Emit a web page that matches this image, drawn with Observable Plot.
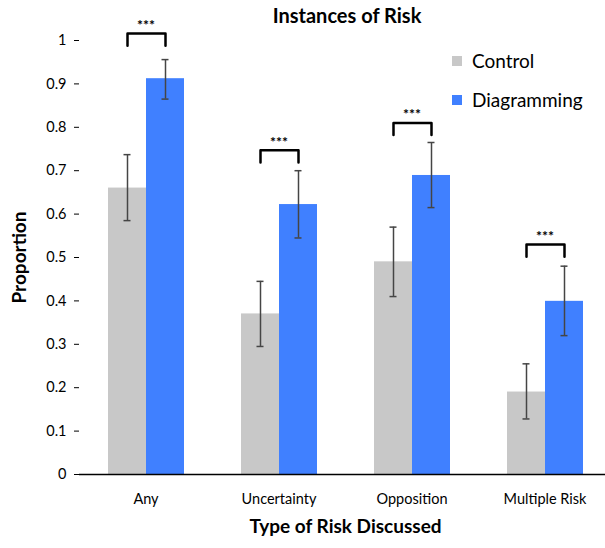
<!DOCTYPE html>
<html>
<head>
<meta charset="utf-8">
<script src="https://cdn.jsdelivr.net/npm/d3@7"></script>
<script src="https://cdn.jsdelivr.net/npm/@observablehq/plot@0.6"></script>
<style>
  html, body { margin: 0; padding: 0; background: #fff; }
  #wrap { position: relative; width: 605px; height: 548px; overflow: hidden; font-family: Lato, "Open Sans", sans-serif; }
  #wrap svg { position: absolute; left: 0; top: 0; }
  #title { position: absolute; left: 0; width: 694px; top: 3px; text-align: center; font-weight: bold; font-size: 20px; color: #000; }
  .leg { position: absolute; left: 452px; font-size: 19px; color: #000; display: flex; align-items: center; }
  .leg span.sw { display: inline-block; width: 10px; height: 10px; margin-right: 10px; }
  g[aria-label="y-axis label"] text, g[aria-label="fx-axis label"] text { font-weight: bold; font-size: 19px; }
  g[aria-label="y-axis label"], g[aria-label="fx-axis label"] { font-weight: bold; font-size: 19px; }
</style>
</head>
<body>
<div id="wrap">
  <div id="title">Instances of Risk</div>
  <div class="leg" style="top:49px"><span class="sw" style="background:#c8c8c8"></span>Control</div>
  <div class="leg" style="top:88px"><span class="sw" style="background:#4080ff"></span>Diagramming</div>
</div>
<script>
// ---- data ----
const categories = ["Any", "Uncertainty", "Opposition", "Multiple Risk"];
const series = ["Control", "Diagramming"];
const controlValues = [0.66, 0.37, 0.49, 0.19];
const controlLow    = [0.585, 0.295, 0.41, 0.128];
const controlHigh   = [0.737, 0.445, 0.57, 0.255];
const diagValues    = [0.912, 0.622, 0.689, 0.399];
const diagLow       = [0.865, 0.545, 0.615, 0.32];
const diagHigh      = [0.956, 0.70, 0.765, 0.48];
const significance  = ["***", "***", "***", "***"];
const bracketTop    = [1.016, 0.747, 0.81, 0.53];
const yTicks = [0, 0.1, 0.2, 0.3, 0.4, 0.5, 0.6, 0.7, 0.8, 0.9, 1];
const seriesColors = ["#c8c8c8", "#4080ff"];

// ---- tables built from the arrays ----
const rows = categories.flatMap((c, i) => [
  {cat: c, series: "Control", value: controlValues[i], lo: controlLow[i], hi: controlHigh[i]},
  {cat: c, series: "Diagramming", value: diagValues[i], lo: diagLow[i], hi: diagHigh[i]}
]);
const bracketH = 0.028;
const brackets = categories.flatMap((c, i) => [
  {cat: c, series: "Control", y: bracketTop[i] - bracketH},
  {cat: c, series: "Control", y: bracketTop[i]},
  {cat: c, series: "Diagramming", y: bracketTop[i]},
  {cat: c, series: "Diagramming", y: bracketTop[i] - bracketH}
]);
const stars = categories.map((c, i) => ({cat: c, y: bracketTop[i], s: significance[i]}));
const catRows = categories.map(c => ({cat: c}));

const W = 605, H = 548, mL = 77, fxEnd = 612;
const step = (fxEnd - mL) / categories.length;
const ink = "#000";
const errInk = "#454545";

const chart = Plot.plot({
  width: W,
  height: H,
  marginTop: 40,
  marginBottom: 74,
  marginLeft: mL,
  marginRight: 0,
  style: {fontFamily: "Lato, 'Open Sans', sans-serif", fontSize: "14.5px", color: "#000", background: "transparent", overflow: "visible"},
  fx: {domain: categories, range: [mL, fxEnd], padding: 0, tickSize: 0, tickPadding: 19,
       label: "Type of Risk Discussed", labelAnchor: "center", labelOffset: 58},
  x: {domain: series, paddingInner: 0, paddingOuter: 0.715, axis: null},
  y: {domain: [0, 1], ticks: yTicks, tickFormat: d => String(d), tickSize: 5, tickPadding: 8,
      label: "Proportion", labelAnchor: "center", labelOffset: 67, labelArrow: "none"},
  color: {domain: series, range: seriesColors},
  marks: [
    Plot.barY(rows, {fx: "cat", x: "series", y: "value", fill: "series"}),
    Plot.ruleX(rows, {fx: "cat", x: "series", y1: "lo", y2: "hi", stroke: errInk, strokeWidth: 1.5}),
    Plot.tickY(rows, {fx: "cat", x: "series", y: "lo", stroke: errInk, strokeWidth: 1.5, insetLeft: 15.5, insetRight: 15.5}),
    Plot.tickY(rows, {fx: "cat", x: "series", y: "hi", stroke: errInk, strokeWidth: 1.5, insetLeft: 15.5, insetRight: 15.5}),
    Plot.line(brackets, {fx: "cat", x: "series", y: "y", z: "cat", stroke: ink, strokeWidth: 2.5, strokeLinejoin: "round"}),
    Plot.text(stars, {fx: "cat", y: "y", text: "s", dy: -8, fontWeight: "bold", fontSize: 14}),
    // x axis line and category separators
    Plot.ruleY([0], {stroke: ink, strokeWidth: 1.5}),
    Plot.ruleX(catRows, {fx: "cat", y1: 0, y2: -0.013, dx: -step / 2, stroke: ink, strokeWidth: 1.5}),
    // y axis line
    Plot.ruleX([{cat: categories[0]}], {fx: "cat", y1: 0, y2: 1, dx: -step / 2, stroke: ink, strokeWidth: 1.5})
  ]
});
document.getElementById("wrap").prepend(chart);
</script>
</body>
</html>
